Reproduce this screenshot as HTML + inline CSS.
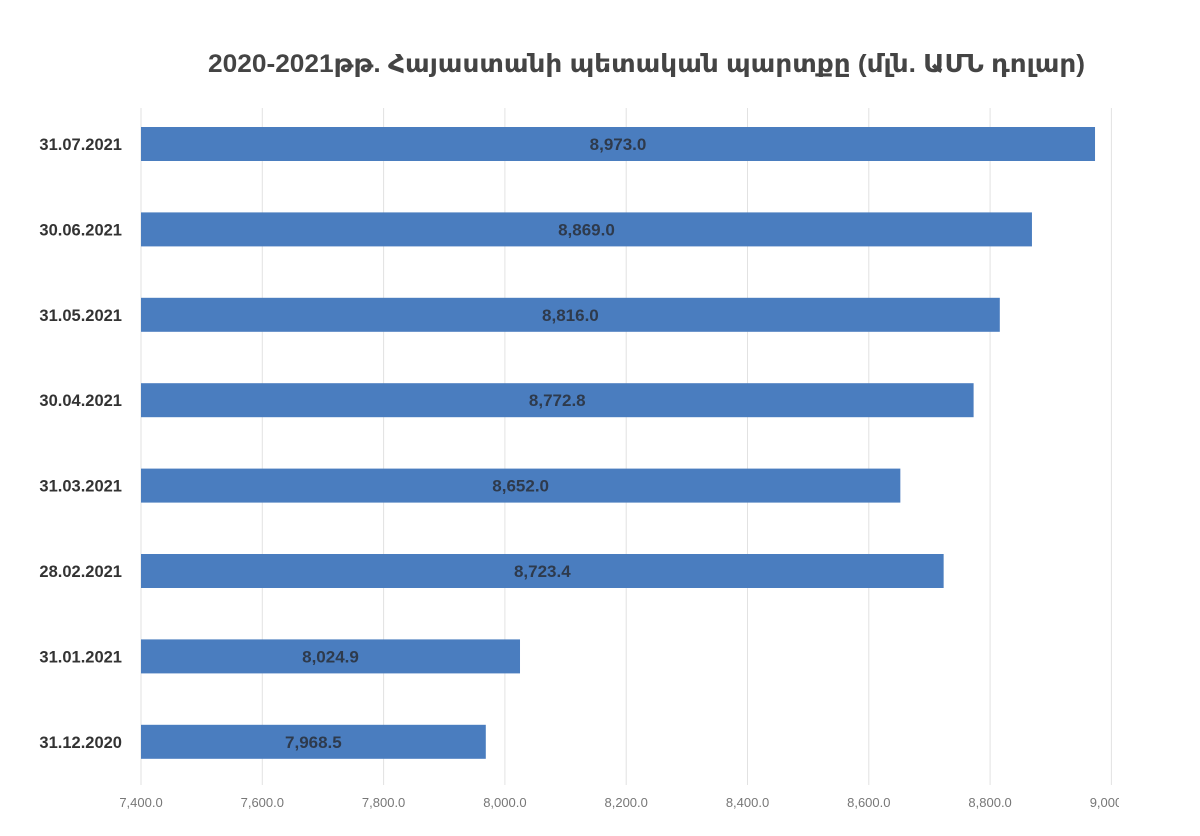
<!DOCTYPE html>
<html><head><meta charset="utf-8"><style>
html,body{margin:0;padding:0;background:#fff;}
svg{display:block;font-family:"Liberation Sans","DejaVu Sans",sans-serif;}
</style></head><body>
<svg id="chart" width="1200" height="836">
<defs><clipPath id="clipR"><rect x="0" y="0" width="1119" height="836"/></clipPath></defs>
<text x="208" y="72" textLength="877" lengthAdjust="spacingAndGlyphs" font-size="25" font-weight="bold" fill="#444">2020-2021թթ. Հայաստանի պետական պարտքը (մլն. ԱՄՆ դոլար)</text>
<g id="grid"></g><g id="bars"></g><g id="labels" clip-path="url(#clipR)"></g>
</svg>
<script>
const categories=["31.07.2021","30.06.2021","31.05.2021","30.04.2021","31.03.2021","28.02.2021","31.01.2021","31.12.2020"];
const values=[8973.0,8869.0,8816.0,8772.8,8652.0,8723.4,8024.9,7968.5];
const valueLabels=["8,973.0","8,869.0","8,816.0","8,772.8","8,652.0","8,723.4","8,024.9","7,968.5"];
const ticks=[7400,7600,7800,8000,8200,8400,8600,8800,9000];
const tickLabels=["7,400.0","7,600.0","7,800.0","8,000.0","8,200.0","8,400.0","8,600.0","8,800.0","9,000.0"];
const NS="http://www.w3.org/2000/svg";
const x=v=>141+(v-7400)*0.6065;
const y0=144,step=85.4,bh=34;
const y=i=>y0+i*step;
function mk(t,a,p){const e=document.createElementNS(NS,t);for(const k in a)e.setAttribute(k,a[k]);p.appendChild(e);return e;}
const grid=document.getElementById('grid'),bars=document.getElementById('bars'),labels=document.getElementById('labels');
ticks.forEach((t,i)=>{
 const l=mk('line',{x1:x(t),x2:x(t),y1:108,y2:785,stroke:'#e2e2e2','stroke-width':1},grid);
 
 
 const tx=mk('text',{x:x(t),y:807,'text-anchor':'middle','font-size':13,fill:'#777'},labels);
 tx.textContent=tickLabels[i];
 
 
});
categories.forEach((c,i)=>{
 const r=mk('rect',{x:x(7400),y:y(i)-bh/2,width:x(values[i])-x(7400),height:bh,fill:'#4a7dbf'},bars);
 
 
 const cl=mk('text',{x:122,y:y(i)+6,'text-anchor':'end','font-size':16.5,'font-weight':'bold',fill:'#333'},labels);
 cl.textContent=c;
 
 
 const vl=mk('text',{x:(x(7400)+x(values[i]))/2,y:y(i)+6,'text-anchor':'middle','font-size':17,'font-weight':'bold',fill:'#2e3a4c'},labels);
 vl.textContent=valueLabels[i];
 
 
});
</script>
</body></html>
